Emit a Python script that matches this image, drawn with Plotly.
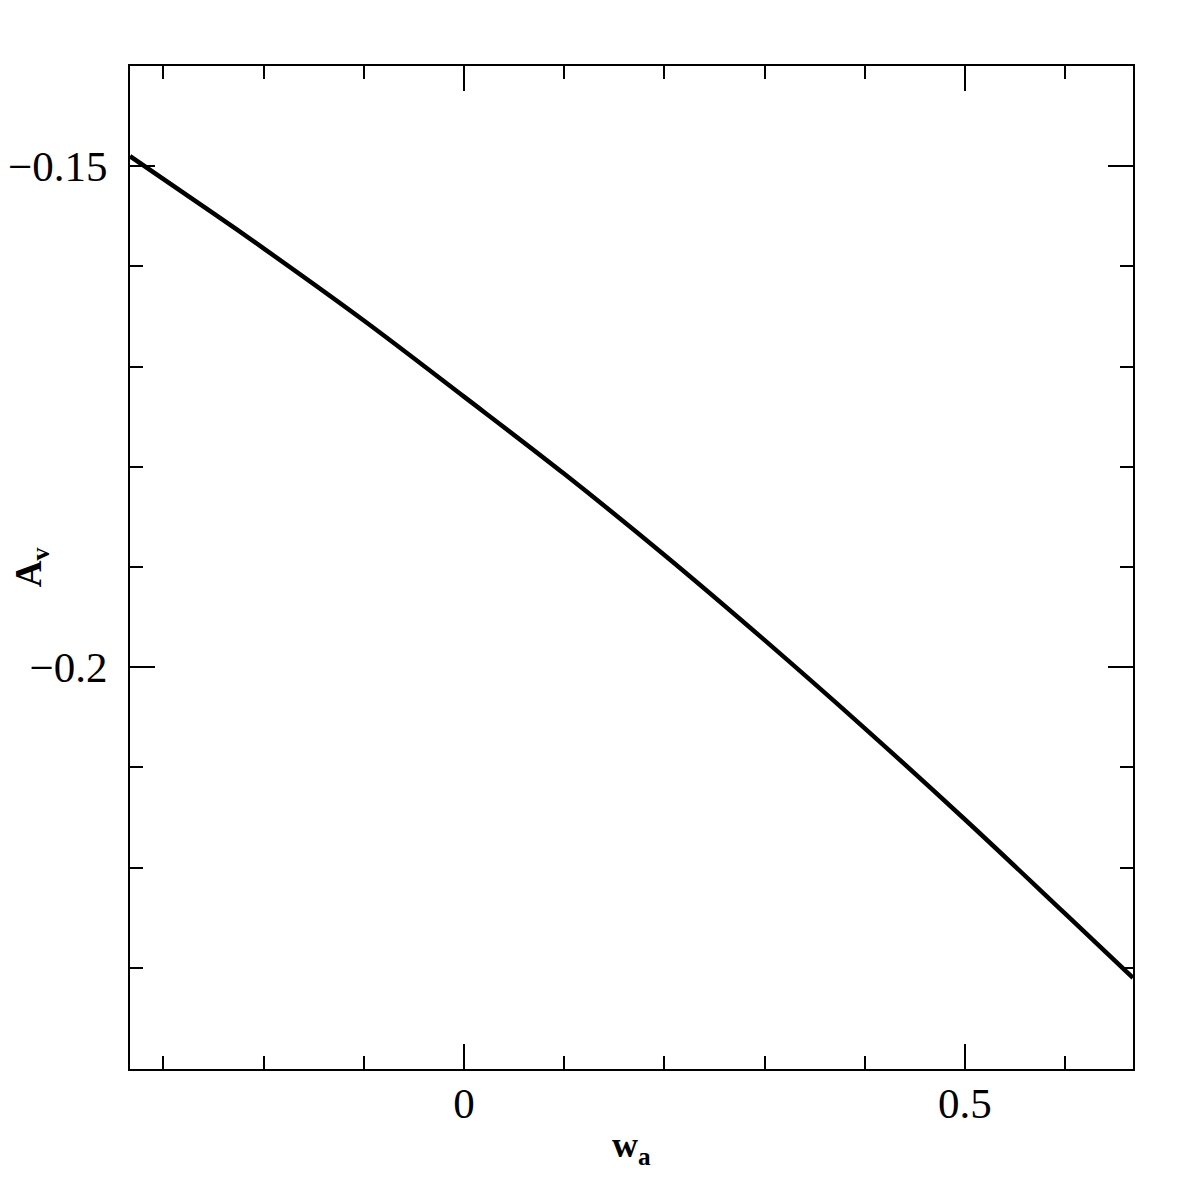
import plotly.graph_objects as go

# curve
w_a = [-0.3333, -0.25, -0.2, -0.1, 0.0, 0.1, 0.2, 0.3, 0.4, 0.5, 0.6, 0.6677]
A_v = [-0.1490, -0.1547, -0.1582, -0.1654, -0.1730, -0.1807, -0.1888, -0.1973, -0.2061, -0.2152, -0.2246, -0.2310]

x_range = [-0.3333, 0.6677]
y_range = [-0.2401, -0.1400]

fig = go.Figure()
fig.add_trace(go.Scatter(x=w_a, y=A_v, mode="lines", line_shape="spline",
                         line=dict(color="black", width=4.5), showlegend=False))

axis_common = dict(showgrid=False, zeroline=False, showline=True, linecolor="black",
                   linewidth=2, mirror="ticks", ticks="inside", ticklen=25,
                   tickwidth=2, tickcolor="black", automargin=False,
                   tickfont=dict(family="Liberation Serif", size=43, color="black"))

fig.update_xaxes(range=x_range, tickmode="linear", tick0=0, dtick=0.5,
                 minor=dict(ticks="inside", ticklen=13, tickwidth=2, tickcolor="black", dtick=0.1, tick0=0),
                 ticklabelstandoff=-5, **axis_common)
fig.update_yaxes(range=y_range, tickmode="linear", tick0=0, dtick=0.05,
                 minor=dict(ticks="inside", ticklen=13, tickwidth=2, tickcolor="black", dtick=0.01, tick0=0),
                 ticklabelstandoff=12, **axis_common)

fig.add_annotation(text="<b>w<sub>a</sub></b>", xref="paper", yref="paper", x=0.5, y=-0.078,
                   showarrow=False, xanchor="center", yanchor="middle",
                   font=dict(family="Liberation Serif", size=36, color="black"))
fig.add_annotation(text="<b>A<sub>v</sub></b>", xref="paper", yref="paper", x=-0.098, y=0.5,
                   showarrow=False, textangle=-90, xanchor="center", yanchor="middle",
                   font=dict(family="Liberation Serif", size=37, color="black"))

fig.update_layout(width=1196, height=1196, plot_bgcolor="white", paper_bgcolor="white",
                  margin=dict(l=122, r=71, t=58, b=135))

fig.write_html("out.html")
